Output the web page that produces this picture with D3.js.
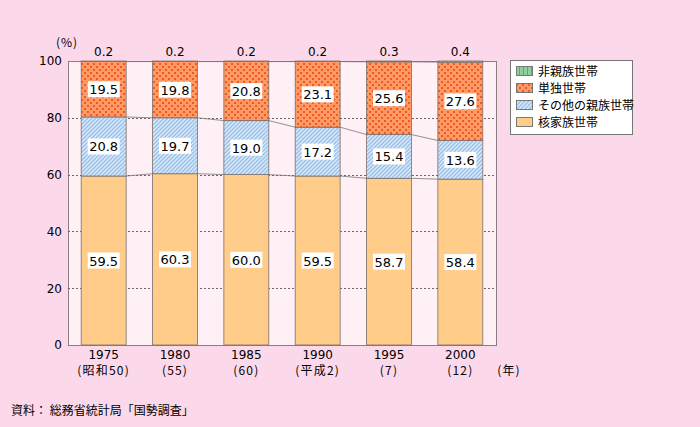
<!DOCTYPE html>
<html><head><meta charset="utf-8">
<script src="https://cdn.jsdelivr.net/npm/d3@7"></script>
<style>
body{margin:0;background:#fcd9ea;}
svg{display:block;font-family:"DejaVu Sans","Noto Sans CJK JP",sans-serif;}
</style></head><body>
<svg id="c" width="700" height="427"></svg>
<script>
const categories = ["1975", "1980", "1985", "1990", "1995", "2000"];
const subLabels = ["(昭和50)", "(55)", "(60)", "(平成2)", "(7)", "(12)"];
const nuclear = [59.5, 60.3, 60.0, 59.5, 58.7, 58.4];
const otherRelatives = [20.8, 19.7, 19.0, 17.2, 15.4, 13.6];
const single = [19.5, 19.8, 20.8, 23.1, 25.6, 27.6];
const nonRelatives = [0.2, 0.2, 0.2, 0.2, 0.3, 0.4];
const yTicks = [0, 20, 40, 60, 80, 100];
const seriesNames = ["核家族世帯", "その他の親族世帯", "単独世帯", "非親族世帯"];

const CJK = "'Noto Sans CJK JP',sans-serif";
const NUM = "'DejaVu Sans',sans-serif";
const svg = d3.select("#c");
const margin = {left: 68, right: 204, top: 61, bottom: 82};
const W = 700, H = 427;
const x = d3.scaleBand().domain(categories).range([margin.left, W - margin.right]).paddingInner(0.37).paddingOuter(0.185);
const y = d3.scaleLinear().domain([0, 100]).range([H - margin.bottom, margin.top]);

const defs = svg.append("defs");
const pd = defs.append("pattern").attr("id", "pDots").attr("patternUnits", "userSpaceOnUse").attr("width", 6).attr("height", 6);
pd.append("rect").attr("width", 6).attr("height", 6).attr("fill", "#ff9a66");
pd.append("rect").attr("x", 0).attr("y", 0).attr("width", 2).attr("height", 2).attr("fill", "#ee5a22");
pd.append("rect").attr("x", 3).attr("y", 3).attr("width", 2).attr("height", 2).attr("fill", "#ee5a22");
const ps = defs.append("pattern").attr("id", "pStripe").attr("patternUnits", "userSpaceOnUse").attr("width", 4).attr("height", 4);
ps.append("rect").attr("width", 4).attr("height", 4).attr("fill", "#a3c3e6");
ps.append("path").attr("d", "M-1,1 l2,-2 M0,4 l4,-4 M3,5 l2,-2").attr("stroke", "#e4effa").attr("stroke-width", 1.2);
const pg = defs.append("pattern").attr("id", "pGreen").attr("patternUnits", "userSpaceOnUse").attr("width", 4).attr("height", 4);
pg.append("rect").attr("width", 4).attr("height", 4).attr("fill", "#8ed19f");
pg.append("rect").attr("x", 3).attr("width", 1).attr("height", 4).attr("fill", "#5eaa72");

const fills = ["#ffcc8a", "url(#pStripe)", "url(#pDots)", "url(#pGreen)"];
const keys = ["nuclear", "other", "single", "non"];
const rows = categories.map((c, i) => ({cat: c, nuclear: nuclear[i], other: otherRelatives[i], single: single[i], non: nonRelatives[i]}));
const stacked = d3.stack().keys(keys)(rows);

svg.append("rect").attr("x", margin.left + 0.5).attr("y", Math.round(y(100)) + 0.5).attr("width", W - margin.right - margin.left).attr("height", y(0) - y(100))
  .attr("fill", "#fff0f6").attr("stroke", "#8a7f80").attr("stroke-width", 1);

svg.append("g").selectAll("line").data([20, 40, 60, 80]).join("line")
  .attr("x1", margin.left).attr("x2", W - margin.right)
  .attr("y1", d => Math.round(y(d)) + 0.5).attr("y2", d => Math.round(y(d)) + 0.5)
  .attr("stroke", "#666").attr("stroke-width", 1).attr("stroke-dasharray", "2,2");

[0, 1, 2].forEach(k => {
  const s = stacked[k];
  for (let i = 0; i < categories.length - 1; i++) {
    svg.append("line")
      .attr("x1", x(categories[i]) + x.bandwidth()).attr("y1", y(s[i][1]))
      .attr("x2", x(categories[i + 1])).attr("y2", y(s[i + 1][1]))
      .attr("stroke", "#777").attr("stroke-width", 0.8);
  }
});

stacked.forEach((s, k) => {
  svg.append("g").selectAll("rect").data(s).join("rect")
    .attr("x", d => x(d.data.cat)).attr("y", d => y(d[1]))
    .attr("width", x.bandwidth()).attr("height", d => y(d[0]) - y(d[1]))
    .attr("fill", fills[k]).attr("stroke", "#7a6f6a").attr("stroke-width", 0.8);
});

const fmt = d3.format(".1f");
stacked.slice(0, 3).forEach((s, k) => {
  const g = svg.append("g");
  s.forEach(d => {
    const v = d[1] - d[0];
    const cx = x(d.data.cat) + x.bandwidth() / 2;
    const cy = (y(d[0]) + y(d[1])) / 2;
    g.append("rect").attr("x", cx - 16).attr("y", cy - 8).attr("width", 32).attr("height", 16).attr("fill", "#fff");
    g.append("text").attr("x", cx).attr("y", cy + 5).attr("text-anchor", "middle")
      .attr("font-family", NUM).attr("font-size", 13).attr("fill", "#000").text(fmt(v));
  });
});
svg.append("g").selectAll("text").data(stacked[3]).join("text")
  .attr("x", d => x(d.data.cat) + x.bandwidth() / 2).attr("y", y(100) - 5)
  .attr("text-anchor", "middle").attr("font-family", NUM).attr("font-size", 12).attr("fill", "#000")
  .text(d => fmt(d[1] - d[0]));

const yAxis = d3.axisLeft(y).tickValues(yTicks).tickSize(0).tickPadding(6);
const ya = svg.append("g").attr("transform", `translate(${margin.left},0)`).call(yAxis);
ya.select(".domain").remove();
ya.selectAll("text").attr("font-size", 12).attr("fill", "#000").attr("font-family", NUM);
svg.append("text").attr("x", 67).attr("y", 47).attr("text-anchor", "middle").attr("font-family", CJK).attr("font-size", 12).attr("letter-spacing", 1).text("(%)");

const xAxis = d3.axisBottom(x).tickSize(0).tickPadding(5);
const xa = svg.append("g").attr("transform", `translate(0,${y(0)})`).call(xAxis);
xa.select(".domain").remove();
xa.selectAll("text").attr("font-size", 12).attr("fill", "#000").attr("font-family", NUM);
svg.append("g").selectAll("text").data(categories).join("text")
  .attr("x", d => x(d) + x.bandwidth() / 2).attr("y", 375).attr("text-anchor", "middle")
  .attr("font-family", CJK).attr("font-size", 12).attr("letter-spacing", 1.2).text((d, i) => subLabels[i]);
svg.append("text").attr("x", 509).attr("y", 375).attr("text-anchor", "middle").attr("font-family", CJK).attr("font-size", 12).attr("letter-spacing", 1.2).text("(年)");

const lg = svg.append("g");
lg.append("rect").attr("x", 510.5).attr("y", 60.5).attr("width", 122).attr("height", 74).attr("fill", "#fff").attr("stroke", "#777");
[3, 2, 1, 0].forEach((k, j) => {
  const yy = 66 + j * 17;
  lg.append("rect").attr("x", 516.5).attr("y", yy + 0.5).attr("width", 16).attr("height", 9).attr("fill", fills[k]).attr("stroke", "#777");
  lg.append("text").attr("x", 538).attr("y", yy + 10).attr("font-family", CJK).attr("font-size", 12).text(seriesNames[k]);
});

svg.append("text").attr("x", 11).attr("y", 415).attr("font-family", CJK).attr("font-size", 12).text("資料：  総務省統計局「国勢調査」");
</script></body></html>
